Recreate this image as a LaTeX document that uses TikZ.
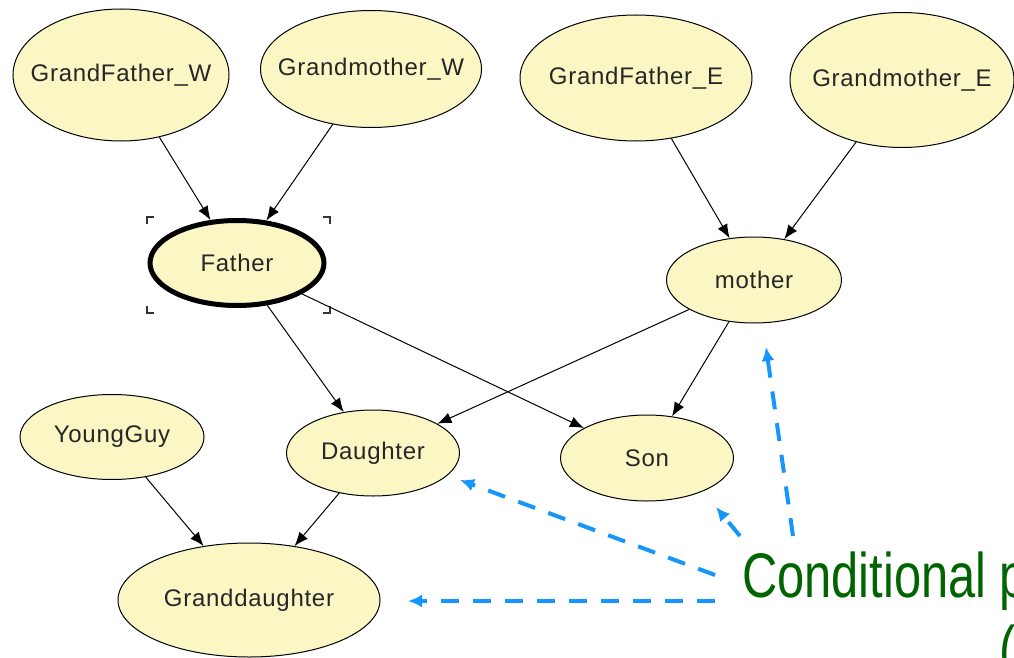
\documentclass[tikz,border=0pt]{standalone}
\usepackage{fontspec}
\setmainfont{Liberation Sans}
\newfontfamily\varfont[LetterSpace=3]{Liberation Sans}
\newfontfamily\narrowfont[FakeStretch=0.775]{Liberation Sans}
\usetikzlibrary{shapes.geometric,arrows.meta}
\definecolor{nodefill}{RGB}{251,247,196}
\definecolor{notegreen}{RGB}{0,100,0}
\definecolor{noteblue}{RGB}{20,150,250}
% the ellipse size is set by minimum width/height alone, not by the label
\newcommand\varlabel[1]{\makebox[0pt]{#1}}
\tikzset{
  var/.style={ellipse, draw=black, line width=1pt, fill=nodefill, inner sep=0pt,
    font=\varfont\fontsize{24}{24}\selectfont, text=black!85},
  link/.style={line width=1pt, -{Latex[length=14pt,width=11pt]}},
  pointer/.style={noteblue, line width=4pt, dash pattern=on 18pt off 14pt,
    -{Latex[length=14pt,width=13pt]}},
  corner/.style={line width=1.5pt, black!80},
  note/.style={font=\narrowfont\fontsize{63}{63}\selectfont, text=notegreen,
    anchor=base west, inner sep=0pt},
}
\begin{document}
\begin{tikzpicture}[x=1pt,y=-1pt]
\fill[white] (0,0) rectangle (1014,658);
\useasboundingbox (0,0) rectangle (1014,658);
\clip (0,0) rectangle (1014,658);

% variables of the network
\node[var, minimum width=216pt, minimum height=132pt] (gfw) at (121,75) {\varlabel{GrandFather\_W}};
\node[var, minimum width=221pt, minimum height=117pt] (gmw) at (371,69) {\varlabel{Grandmother\_W}};
\node[var, minimum width=232pt, minimum height=126pt] (gfe) at (636,78) {\varlabel{GrandFather\_E}};
\node[var, minimum width=224pt, minimum height=135pt] (gme) at (902,80) {\varlabel{Grandmother\_E}};
\node[var, line width=5pt, minimum width=174pt, minimum height=85pt] (father) at (237,263) {\varlabel{Father}};
\node[var, minimum width=175pt, minimum height=86pt] (mother) at (754,280) {\varlabel{mother}};
\node[var, minimum width=184pt, minimum height=85pt] (young) at (112,437) {\varlabel{YoungGuy}};
\node[var, minimum width=173pt, minimum height=86pt] (daughter) at (373,453) {\varlabel{Daughter}};
\node[var, minimum width=173pt, minimum height=86pt] (son) at (647,458) {\varlabel{Son}};
\node[var, minimum width=262pt, minimum height=114pt] (grand) at (249,600) {\varlabel{Granddaughter}};

% selection marks around Father
\draw[corner] (147,224) -- (147,217) -- (154,217);
\draw[corner] (323,217) -- (330,217) -- (330,224);
\draw[corner] (147,306) -- (147,313) -- (154,313);
\draw[corner] (323,313) -- (330,313) -- (330,306);

% dependencies
\draw[link] (gfw) -- (father);
\draw[link] (gmw) -- (father);
\draw[link] (gfe) -- (mother);
\draw[link] (gme) -- (mother);
\draw[link] (father) -- (daughter);
\draw[link] (father) -- (son);
\draw[link] (mother) -- (daughter);
\draw[link] (mother) -- (son);
\draw[link] (young) -- (grand);
\draw[link] (daughter) -- (grand);

% annotation
\node[note] (cpt) at (742,597) {Conditional p};
\node[note] (paren) at (999,670) {(};

\coordinate (s1) at (715,575);
\coordinate (s2) at (715,601);
\coordinate (s3) at (740,536);
\coordinate (s4) at (793,536);
\coordinate (t1) at (460,480);
\coordinate (t2) at (408,601);
\coordinate (t3) at (716,507);
\coordinate (t4) at (766,347);
\draw[pointer] (s1) -- (t1);
\draw[pointer] (s2) -- (t2);
\draw[pointer] (s3) -- (t3);
\draw[pointer] (s4) -- (t4);
\end{tikzpicture}
\end{document}
